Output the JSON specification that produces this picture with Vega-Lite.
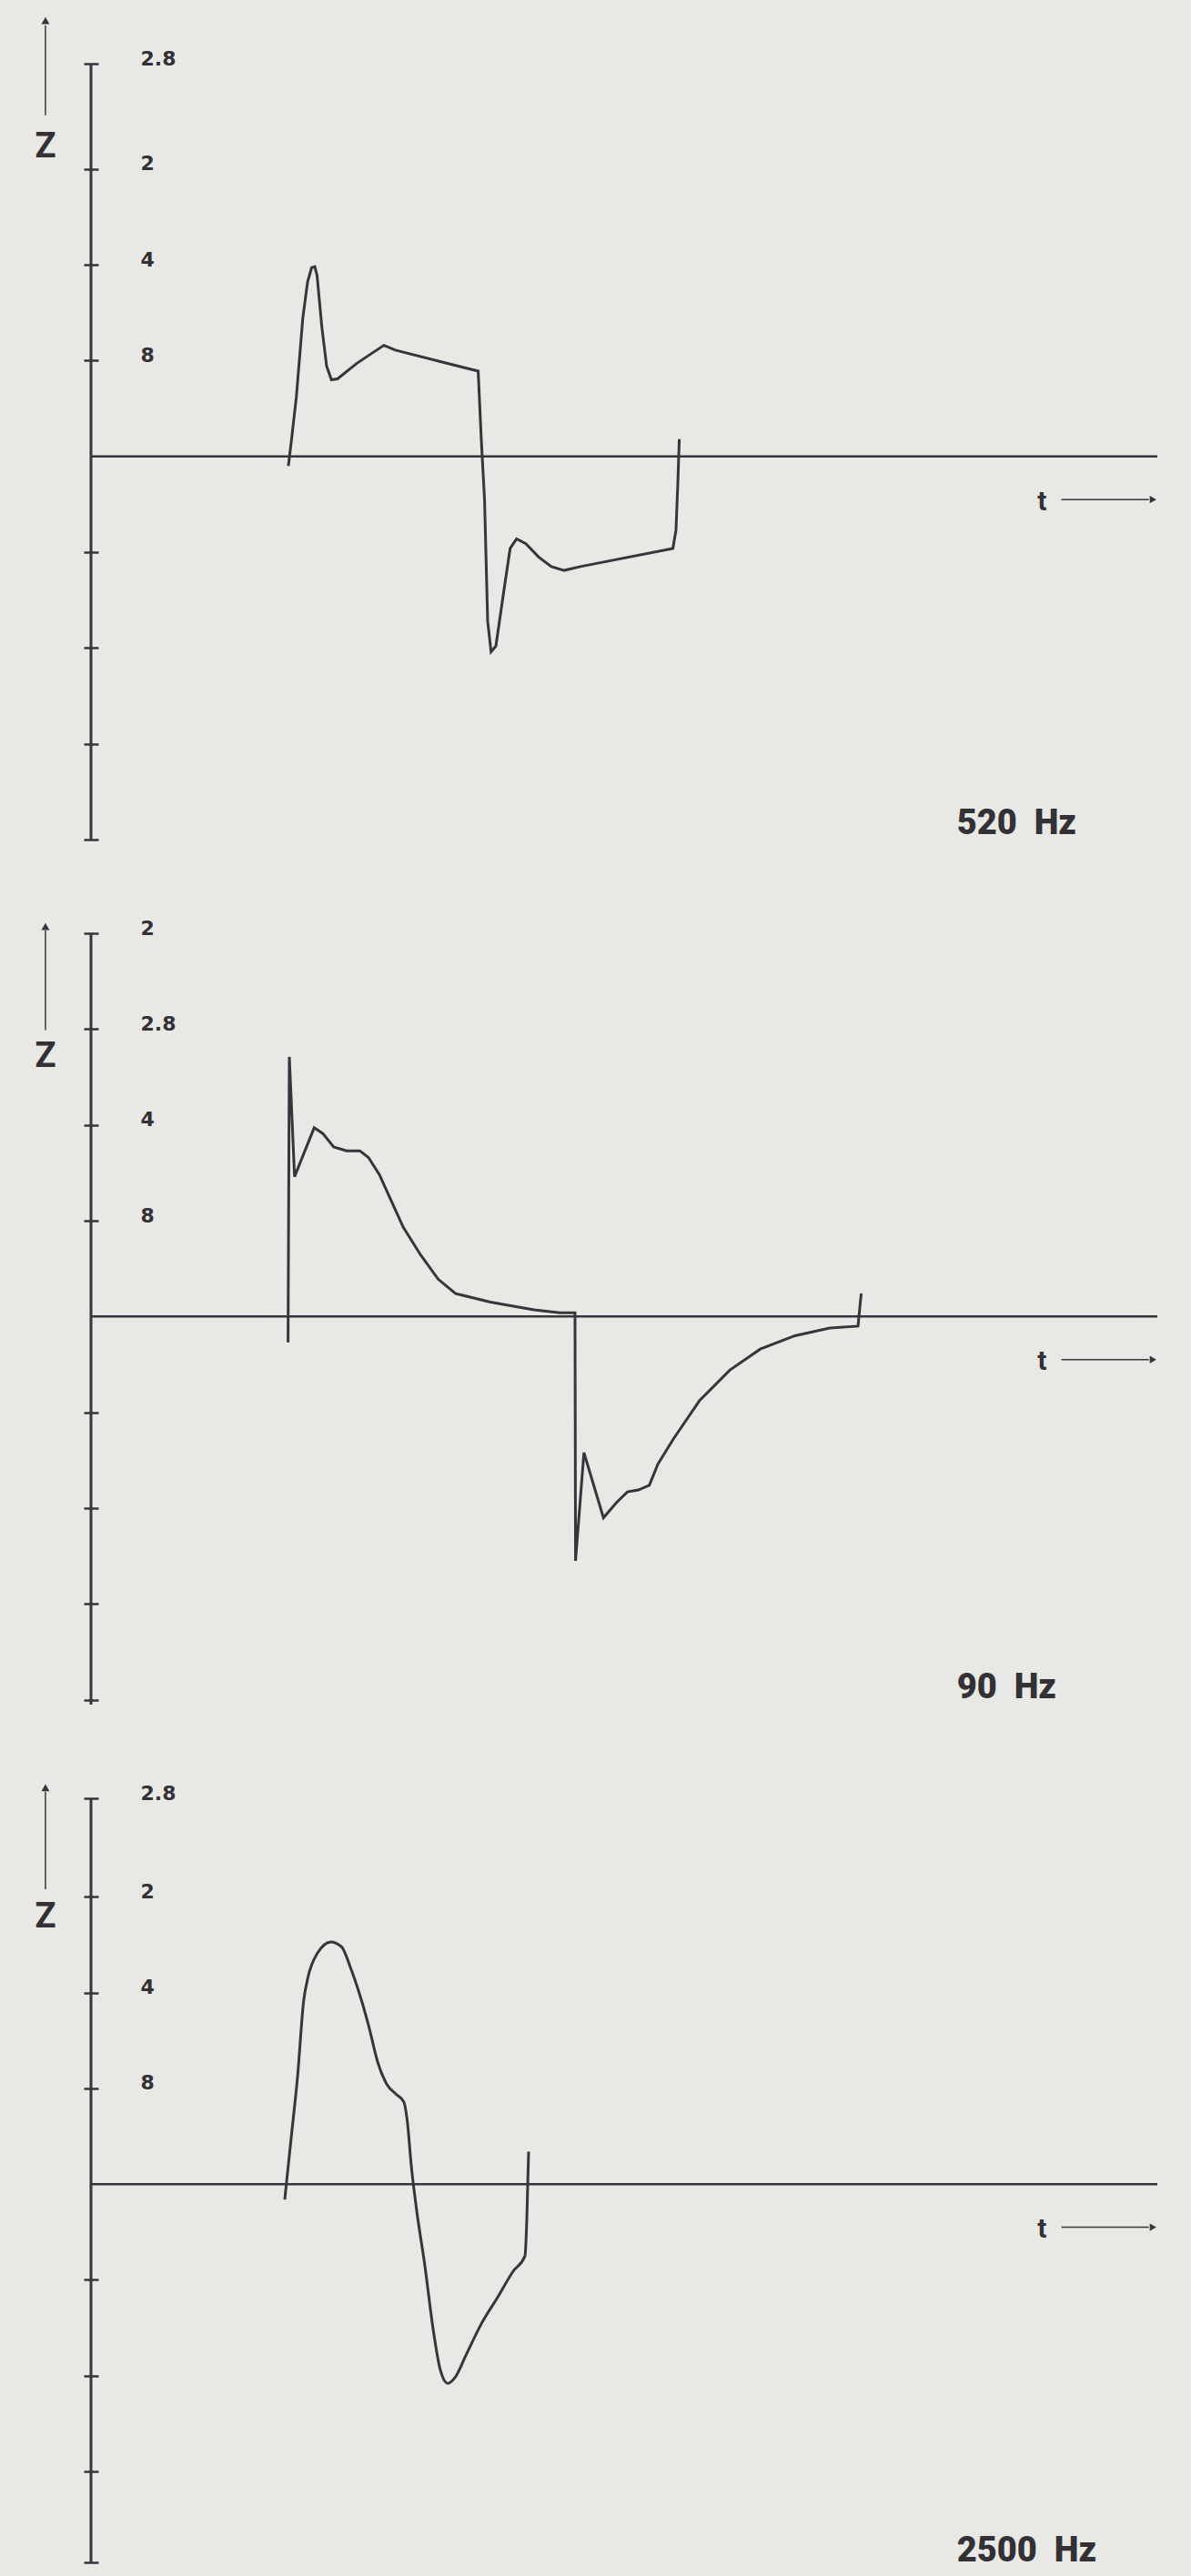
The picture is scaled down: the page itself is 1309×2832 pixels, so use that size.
{
  "$schema": "https://vega.github.io/schema/vega-lite/v6.json",
  "background": "#e8e9e4",
  "padding": {"left": 38, "top": 18, "right": 39, "bottom": 8},
  "bounds": "flush",
  "spacing": 103,
  "config": {"view": {"stroke": null}},
  "datasets": {
    "p520": [
      {"t": 18.51, "z": -0.10}, {"t": 18.81, "z": 0.18}, {"t": 19.26, "z": 0.62}, {"t": 19.86, "z": 1.44},
      {"t": 20.31, "z": 1.82}, {"t": 20.69, "z": 1.97}, {"t": 20.99, "z": 1.98}, {"t": 21.20, "z": 1.89},
      {"t": 21.65, "z": 1.35}, {"t": 22.10, "z": 0.94}, {"t": 22.55, "z": 0.80}, {"t": 23.12, "z": 0.81},
      {"t": 24.91, "z": 0.97}, {"t": 27.47, "z": 1.16}, {"t": 28.53, "z": 1.11}, {"t": 36.31, "z": 0.89},
      {"t": 36.60, "z": 0.18}, {"t": 36.91, "z": -0.46}, {"t": 37.20, "z": -1.72}, {"t": 37.52, "z": -2.04},
      {"t": 37.97, "z": -1.98}, {"t": 38.71, "z": -1.41}, {"t": 39.31, "z": -0.96}, {"t": 39.91, "z": -0.86},
      {"t": 40.78, "z": -0.91}, {"t": 41.98, "z": -1.05}, {"t": 43.17, "z": -1.15}, {"t": 44.37, "z": -1.19},
      {"t": 45.90, "z": -1.15}, {"t": 54.57, "z": -0.96}, {"t": 54.86, "z": -0.77}, {"t": 55.03, "z": -0.29},
      {"t": 55.17, "z": 0.18}
    ],
    "p90": [
      {"t": 18.48, "z": -0.27}, {"t": 18.60, "z": 2.71}, {"t": 19.09, "z": 1.46}, {"t": 20.93, "z": 1.97},
      {"t": 21.74, "z": 1.91}, {"t": 22.76, "z": 1.77}, {"t": 23.98, "z": 1.73}, {"t": 25.21, "z": 1.73},
      {"t": 26.02, "z": 1.66}, {"t": 27.05, "z": 1.48}, {"t": 28.07, "z": 1.23}, {"t": 29.29, "z": 0.93},
      {"t": 30.93, "z": 0.64}, {"t": 32.56, "z": 0.39}, {"t": 34.19, "z": 0.24}, {"t": 37.46, "z": 0.15},
      {"t": 41.54, "z": 0.07}, {"t": 43.98, "z": 0.04}, {"t": 45.39, "z": 0.04}, {"t": 45.44, "z": -2.55},
      {"t": 46.23, "z": -1.42}, {"t": 48.06, "z": -2.10}, {"t": 49.29, "z": -1.94}, {"t": 50.31, "z": -1.83},
      {"t": 51.33, "z": -1.81}, {"t": 52.36, "z": -1.76}, {"t": 53.16, "z": -1.54}, {"t": 54.60, "z": -1.28},
      {"t": 57.05, "z": -0.88}, {"t": 59.90, "z": -0.56}, {"t": 62.76, "z": -0.34}, {"t": 66.02, "z": -0.20},
      {"t": 69.28, "z": -0.12}, {"t": 71.93, "z": -0.10}, {"t": 72.23, "z": 0.24}
    ],
    "p2500": [
      {"t": 18.17, "z": -0.16}, {"t": 18.77, "z": 0.48}, {"t": 19.37, "z": 1.12}, {"t": 19.94, "z": 1.91},
      {"t": 20.37, "z": 2.17}, {"t": 21.22, "z": 2.41}, {"t": 22.50, "z": 2.53}, {"t": 23.49, "z": 2.48},
      {"t": 24.34, "z": 2.26}, {"t": 25.20, "z": 1.98}, {"t": 26.05, "z": 1.65}, {"t": 26.90, "z": 1.27},
      {"t": 27.76, "z": 1.04}, {"t": 28.61, "z": 0.94}, {"t": 29.33, "z": 0.86}, {"t": 29.69, "z": 0.63},
      {"t": 30.03, "z": 0.20}, {"t": 30.55, "z": -0.28}, {"t": 31.31, "z": -0.85}, {"t": 32.08, "z": -1.51},
      {"t": 32.76, "z": -1.94}, {"t": 33.45, "z": -2.08}, {"t": 34.13, "z": -2.02}, {"t": 35.15, "z": -1.79},
      {"t": 36.60, "z": -1.46}, {"t": 38.14, "z": -1.18}, {"t": 39.59, "z": -0.91}, {"t": 40.70, "z": -0.75},
      {"t": 40.87, "z": -0.37}, {"t": 41.04, "z": 0.34}
    ]
  },
  "vconcat": [
    {
      "width": 1172, "height": 853,
      "layer": [
        {
          "data": {"name": "p520"},
          "mark": {"type": "line", "stroke": "#38343c", "strokeWidth": 3, "interpolate": "linear"},
          "encoding": {
            "x": {"field": "t", "type": "quantitative", "scale": {"domain": [0, 100], "nice": false, "zero": false}, "axis": null},
            "y": {"field": "z", "type": "quantitative", "scale": {"domain": [-4, 4.1], "nice": false, "zero": false},
              "axis": {"orient": "left", "offset": -8, "domain": false, "grid": false, "title": null,
                "values": [4.1, 3, 2, 1, -1, -2, -3, -4], "tickSize": 16, "tickWidth": 2.5, "tickColor": "#38343c",
                "labelExpr": "datum.value > 4 ? '2.8' : datum.value == 3 ? '2' : datum.value == 2 ? '4' : datum.value == 1 ? '8' : ''",
                "labelAlign": "left", "labelBaseline": "middle", "labelPadding": -62, "labelOffset": -6,
                "labelFont": "DejaVu Sans", "labelFontWeight": "bold", "labelFontSize": 22, "labelColor": "#333036",
                "labelFlush": false, "labelOverlap": false, "labelBound": false}}
          }
        },
        {
          "data": {"values": [{}]},
          "mark": {"type": "rule", "stroke": "#38343c", "strokeWidth": 3},
          "encoding": {"x": {"datum": 0, "type": "quantitative", "axis": null}, "y": {"datum": -4, "type": "quantitative"}, "y2": {"datum": 4.1}}
        },
        {
          "data": {"values": [{}]},
          "mark": {"type": "rule", "stroke": "#38343c", "strokeWidth": 2.5},
          "encoding": {"x": {"datum": 0, "type": "quantitative", "axis": null}, "x2": {"datum": 100}, "y": {"datum": 0, "type": "quantitative"}}
        },
        {
          "data": {"values": [{}]},
          "mark": {"type": "rule", "stroke": "#38343c", "strokeWidth": 1.5},
          "encoding": {"x": {"datum": -4.27, "type": "quantitative", "axis": null}, "y": {"datum": 3.56, "type": "quantitative"}, "y2": {"datum": 4.5}}
        },
        {
          "data": {"values": [{}]},
          "mark": {"type": "point", "shape": "triangle-up", "filled": true, "size": 80, "color": "#38343c", "opacity": 1},
          "encoding": {"x": {"datum": -4.27, "type": "quantitative", "axis": null}, "y": {"datum": 4.55, "type": "quantitative"}}
        },
        {
          "data": {"values": [{}]},
          "mark": {"type": "text", "text": "Z", "font": "Roboto", "fontWeight": "bold", "fontSize": 38, "align": "center", "baseline": "middle", "color": "#333036"},
          "encoding": {"x": {"datum": -4.27, "type": "quantitative", "axis": null}, "y": {"datum": 3.23, "type": "quantitative"}}
        },
        {
          "data": {"values": [{}]},
          "mark": {"type": "text", "text": "t", "font": "Roboto", "fontWeight": "bold", "fontSize": 30, "align": "center", "baseline": "middle", "color": "#333036"},
          "encoding": {"x": {"datum": 89.2, "type": "quantitative", "axis": null}, "y": {"datum": -0.475, "type": "quantitative"}}
        },
        {
          "data": {"values": [{}]},
          "mark": {"type": "rule", "stroke": "#38343c", "strokeWidth": 1.5},
          "encoding": {"x": {"datum": 91, "type": "quantitative", "axis": null}, "x2": {"datum": 99.2}, "y": {"datum": -0.45, "type": "quantitative"}}
        },
        {
          "data": {"values": [{}]},
          "mark": {"type": "point", "shape": "triangle-right", "filled": true, "size": 70, "color": "#38343c", "opacity": 1},
          "encoding": {"x": {"datum": 99.6, "type": "quantitative", "axis": null}, "y": {"datum": -0.45, "type": "quantitative"}}
        },
        {
          "data": {"values": [{}]},
          "mark": {"type": "text", "text": "520\u00a0\u00a0Hz", "font": "Roboto", "fontWeight": 900, "fontSize": 38, "align": "left", "baseline": "middle", "color": "#333036"},
          "encoding": {"x": {"datum": 81.2, "type": "quantitative", "axis": null}, "y": {"datum": -3.84, "type": "quantitative"}}
        }
      ]
    },
    {
      "width": 1172, "height": 848,
      "layer": [
        {
          "data": {"name": "p90"},
          "mark": {"type": "line", "stroke": "#38343c", "strokeWidth": 3, "interpolate": "linear"},
          "encoding": {
            "x": {"field": "t", "type": "quantitative", "scale": {"domain": [0, 100], "nice": false, "zero": false}, "axis": null},
            "y": {"field": "z", "type": "quantitative", "scale": {"domain": [-4.05, 4], "nice": false, "zero": false},
              "axis": {"orient": "left", "offset": -8, "domain": false, "grid": false, "title": null,
                "values": [4, 3, 2, 1, -1, -2, -3, -4], "tickSize": 16, "tickWidth": 2.5, "tickColor": "#38343c",
                "labelExpr": "datum.value == 4 ? '2' : datum.value == 3 ? '2.8' : datum.value == 2 ? '4' : datum.value == 1 ? '8' : ''",
                "labelAlign": "left", "labelBaseline": "middle", "labelPadding": -62, "labelOffset": -6,
                "labelFont": "DejaVu Sans", "labelFontWeight": "bold", "labelFontSize": 22, "labelColor": "#333036",
                "labelFlush": false, "labelOverlap": false, "labelBound": false}}
          }
        },
        {
          "data": {"values": [{}]},
          "mark": {"type": "rule", "stroke": "#38343c", "strokeWidth": 3},
          "encoding": {"x": {"datum": 0, "type": "quantitative", "axis": null}, "y": {"datum": -4.05, "type": "quantitative"}, "y2": {"datum": 4}}
        },
        {
          "data": {"values": [{}]},
          "mark": {"type": "rule", "stroke": "#38343c", "strokeWidth": 2.5},
          "encoding": {"x": {"datum": 0, "type": "quantitative", "axis": null}, "x2": {"datum": 100}, "y": {"datum": 0, "type": "quantitative"}}
        },
        {
          "data": {"values": [{}]},
          "mark": {"type": "rule", "stroke": "#38343c", "strokeWidth": 1.5},
          "encoding": {"x": {"datum": -4.27, "type": "quantitative", "axis": null}, "y": {"datum": 2.99, "type": "quantitative"}, "y2": {"datum": 4.03}}
        },
        {
          "data": {"values": [{}]},
          "mark": {"type": "point", "shape": "triangle-up", "filled": true, "size": 80, "color": "#38343c", "opacity": 1},
          "encoding": {"x": {"datum": -4.27, "type": "quantitative", "axis": null}, "y": {"datum": 4.07, "type": "quantitative"}}
        },
        {
          "data": {"values": [{}]},
          "mark": {"type": "text", "text": "Z", "font": "Roboto", "fontWeight": "bold", "fontSize": 38, "align": "center", "baseline": "middle", "color": "#333036"},
          "encoding": {"x": {"datum": -4.27, "type": "quantitative", "axis": null}, "y": {"datum": 2.71, "type": "quantitative"}}
        },
        {
          "data": {"values": [{}]},
          "mark": {"type": "text", "text": "t", "font": "Roboto", "fontWeight": "bold", "fontSize": 30, "align": "center", "baseline": "middle", "color": "#333036"},
          "encoding": {"x": {"datum": 89.2, "type": "quantitative", "axis": null}, "y": {"datum": -0.475, "type": "quantitative"}}
        },
        {
          "data": {"values": [{}]},
          "mark": {"type": "rule", "stroke": "#38343c", "strokeWidth": 1.5},
          "encoding": {"x": {"datum": 91, "type": "quantitative", "axis": null}, "x2": {"datum": 99.2}, "y": {"datum": -0.45, "type": "quantitative"}}
        },
        {
          "data": {"values": [{}]},
          "mark": {"type": "point", "shape": "triangle-right", "filled": true, "size": 70, "color": "#38343c", "opacity": 1},
          "encoding": {"x": {"datum": 99.6, "type": "quantitative", "axis": null}, "y": {"datum": -0.45, "type": "quantitative"}}
        },
        {
          "data": {"values": [{}]},
          "mark": {"type": "text", "text": "90\u00a0\u00a0Hz", "font": "Roboto", "fontWeight": 900, "fontSize": 38, "align": "left", "baseline": "middle", "color": "#333036"},
          "encoding": {"x": {"datum": 81.2, "type": "quantitative", "axis": null}, "y": {"datum": -3.88, "type": "quantitative"}}
        }
      ]
    },
    {
      "width": 1172, "height": 840,
      "layer": [
        {
          "data": {"name": "p2500"},
          "mark": {"type": "line", "stroke": "#38343c", "strokeWidth": 3, "interpolate": "monotone"},
          "encoding": {
            "x": {"field": "t", "type": "quantitative", "scale": {"domain": [0, 100], "nice": false, "zero": false}, "axis": null},
            "y": {"field": "z", "type": "quantitative", "scale": {"domain": [-3.95, 4.03], "nice": false, "zero": false},
              "axis": {"orient": "left", "offset": -8, "domain": false, "grid": false, "title": null,
                "values": [4.03, 3, 2, 1, -1, -2, -3, -3.95], "tickSize": 16, "tickWidth": 2.5, "tickColor": "#38343c",
                "labelExpr": "datum.value > 4 ? '2.8' : datum.value == 3 ? '2' : datum.value == 2 ? '4' : datum.value == 1 ? '8' : ''",
                "labelAlign": "left", "labelBaseline": "middle", "labelPadding": -62, "labelOffset": -6,
                "labelFont": "DejaVu Sans", "labelFontWeight": "bold", "labelFontSize": 22, "labelColor": "#333036",
                "labelFlush": false, "labelOverlap": false, "labelBound": false}}
          }
        },
        {
          "data": {"values": [{}]},
          "mark": {"type": "rule", "stroke": "#38343c", "strokeWidth": 3},
          "encoding": {"x": {"datum": 0, "type": "quantitative", "axis": null}, "y": {"datum": -3.95, "type": "quantitative"}, "y2": {"datum": 4.03}}
        },
        {
          "data": {"values": [{}]},
          "mark": {"type": "rule", "stroke": "#38343c", "strokeWidth": 2.5},
          "encoding": {"x": {"datum": 0, "type": "quantitative", "axis": null}, "x2": {"datum": 100}, "y": {"datum": 0, "type": "quantitative"}}
        },
        {
          "data": {"values": [{}]},
          "mark": {"type": "rule", "stroke": "#38343c", "strokeWidth": 1.5},
          "encoding": {"x": {"datum": -4.27, "type": "quantitative", "axis": null}, "y": {"datum": 3.08, "type": "quantitative"}, "y2": {"datum": 4.1}}
        },
        {
          "data": {"values": [{}]},
          "mark": {"type": "point", "shape": "triangle-up", "filled": true, "size": 80, "color": "#38343c", "opacity": 1},
          "encoding": {"x": {"datum": -4.27, "type": "quantitative", "axis": null}, "y": {"datum": 4.14, "type": "quantitative"}}
        },
        {
          "data": {"values": [{}]},
          "mark": {"type": "text", "text": "Z", "font": "Roboto", "fontWeight": "bold", "fontSize": 38, "align": "center", "baseline": "middle", "color": "#333036"},
          "encoding": {"x": {"datum": -4.27, "type": "quantitative", "axis": null}, "y": {"datum": 2.79, "type": "quantitative"}}
        },
        {
          "data": {"values": [{}]},
          "mark": {"type": "text", "text": "t", "font": "Roboto", "fontWeight": "bold", "fontSize": 30, "align": "center", "baseline": "middle", "color": "#333036"},
          "encoding": {"x": {"datum": 89.2, "type": "quantitative", "axis": null}, "y": {"datum": -0.475, "type": "quantitative"}}
        },
        {
          "data": {"values": [{}]},
          "mark": {"type": "rule", "stroke": "#38343c", "strokeWidth": 1.5},
          "encoding": {"x": {"datum": 91, "type": "quantitative", "axis": null}, "x2": {"datum": 99.2}, "y": {"datum": -0.45, "type": "quantitative"}}
        },
        {
          "data": {"values": [{}]},
          "mark": {"type": "point", "shape": "triangle-right", "filled": true, "size": 70, "color": "#38343c", "opacity": 1},
          "encoding": {"x": {"datum": 99.6, "type": "quantitative", "axis": null}, "y": {"datum": -0.45, "type": "quantitative"}}
        },
        {
          "data": {"values": [{}]},
          "mark": {"type": "text", "text": "2500\u00a0\u00a0Hz", "font": "Roboto", "fontWeight": 900, "fontSize": 38, "align": "left", "baseline": "middle", "color": "#333036"},
          "encoding": {"x": {"datum": 81.2, "type": "quantitative", "axis": null}, "y": {"datum": -3.84, "type": "quantitative"}}
        }
      ]
    }
  ]
}
